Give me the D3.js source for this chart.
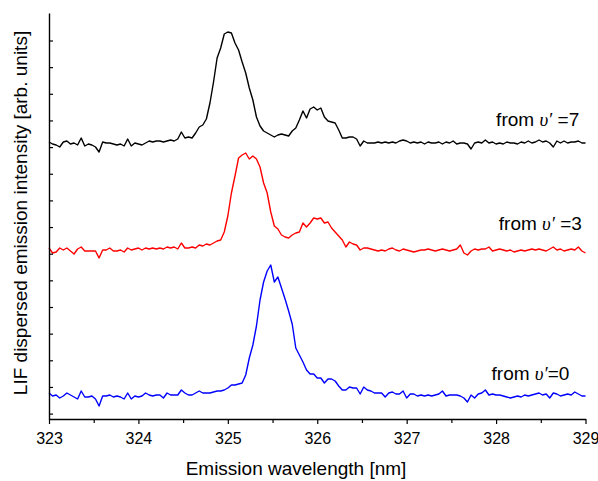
<!DOCTYPE html>
<html><head><meta charset="utf-8">
<script src="https://cdn.jsdelivr.net/npm/d3@7/dist/d3.min.js"></script>
<style>
body{margin:0;background:#fff;}
svg text{font-family:"Liberation Sans",Arial,Helvetica,sans-serif;fill:#000;}
</style>
</head><body>
<svg id="chart" width="598" height="481"></svg>
<script>
// ---------- data ----------
const wlStart = 323.0;          // nm, first sample
const wlStep = 0.04;            // nm between samples
const xTickValues = [323, 324, 325, 326, 327, 328, 329];
const xMinorTickValues = [323.5, 324.5, 325.5, 326.5, 327.5, 328.5];
const yTickStep = 26.65;        // arb. units between y ticks
const yTickFirst = 5.4;
const yMax = 406;

// vertical offsets of each spectrum (arb. units)
const offsetV7 = 275;
const offsetV3 = 169;
const offsetV0 = 23;

// intensities (arb. units, relative to each spectrum's baseline)
const intensityV7 = [
  2,0,-1,-3,2,3,0,1,-1,6,
  -2,0,-1,-3,-8,2,1,1,0,-1,
  0,-2,5,-2,1,0,-1,1,3,2,
  3,3,2,3,4,3,5,12,6,7,
  6,11,17,19,25,41,62,86,96,110,
  112,111,101,94,82,71,56,44,27,18,
  13,11,9,7,9,10,9,8,13,16,
  24,33,26,35,37,34,36,27,23,22,
  21,14,6,6,7,7,5,-2,3,1,
  1,1,2,1,2,1,2,1,3,4,
  3,1,2,1,2,0,2,1,1,2,
  0,2,1,3,0,1,1,0,-5,1,
  2,1,4,1,2,0,1,0,2,1,
  1,0,2,1,3,1,2,4,2,3,
  1,-3,3,1,3,1,2,2,3,1,1
];
const intensityV3 = [
  2,-3,-2,2,0,2,-1,-4,1,3,
  -1,-1,-1,-1,-8,0,0,2,-1,-1,
  0,-2,2,0,1,2,0,2,1,2,
  1,2,1,3,2,3,1,7,2,2,
  3,2,5,4,6,5,7,9,10,18,
  34,57,74,92,95,97,91,94,91,83,
  67,57,38,24,21,15,13,12,15,17,
  18,27,23,27,32,31,32,27,28,22,
  18,14,10,3,8,6,5,0,2,2,
  1,0,-1,0,-1,1,2,0,-1,1,
  0,-1,-2,-1,0,0,1,0,-1,0,
  1,0,-1,0,1,5,-3,-5,-1,1,
  0,1,1,3,-1,0,1,0,-1,0,
  -2,-1,0,-1,0,1,0,1,0,-1,
  1,3,0,1,-1,0,1,0,3,-1,-3
];
const intensityV0 = [
  3,0,1,-2,0,3,1,-1,-3,5,
  -1,-1,0,-3,-10,0,0,1,-1,0,
  -1,-3,3,-3,0,-1,0,3,1,0,
  1,1,-2,3,1,1,1,6,3,1,
  1,3,5,3,3,3,4,5,5,6,
  8,11,11,12,13,21,38,51,70,96,
  114,125,131,114,119,108,97,85,72,48,
  41,34,26,22,22,18,18,13,17,17,
  15,10,6,6,9,8,8,2,9,6,
  5,3,3,3,-1,3,4,2,2,5,
  -2,2,2,0,1,0,1,0,1,2,
  5,0,1,1,1,0,-2,-6,1,-2,
  2,3,6,1,2,1,1,0,-1,-2,
  -1,0,-1,1,0,1,2,3,1,2,
  -2,3,2,0,1,2,1,4,2,0,0
];
const seriesLevels = ["7", "3", "0"];
const seriesColors = ["#000000", "#ff0000", "#0000ff"];
const seriesOffsets = [offsetV7, offsetV3, offsetV0];
const seriesData = [intensityV7, intensityV3, intensityV0];
const labelGaps = [" =", " =", "="];   // spacing as in the figure

// ---------- layout ----------
const svg = d3.select("#chart");
const mLeft = 49, mRight = 585.5, mTop = 13, mBottom = 419;
const x = d3.scaleLinear().domain([323, 329]).range([mLeft, mRight]);
const y = d3.scaleLinear().domain([0, yMax]).range([mBottom, mTop]);

const line = d3.line()
  .x((d, i) => x(wlStart + i * wlStep))
  .y(d => y(d));

seriesData.forEach((vals, k) => {
  const shifted = vals.map(v => v + seriesOffsets[k]);
  svg.append("path")
    .datum(shifted)
    .attr("d", line)
    .attr("fill", "none")
    .attr("stroke", seriesColors[k])
    .attr("stroke-width", 1.4)
    .attr("stroke-linejoin", "round");
});

// x axis (major + minor ticks, outward)
const xAxis = svg.append("g").attr("transform", `translate(0,${mBottom})`)
  .call(d3.axisBottom(x).tickValues(xTickValues).tickFormat(d3.format("d")).tickSize(5).tickSizeOuter(0));
svg.append("g").attr("transform", `translate(0,${mBottom})`)
  .call(d3.axisBottom(x).tickValues(xMinorTickValues).tickFormat("").tickSize(4).tickSizeOuter(0))
  .select(".domain").remove();
xAxis.select(".domain").attr("stroke", "#000").attr("stroke-width", 1.4);
svg.selectAll("g.tick line").attr("stroke", "#000").attr("stroke-width", 1.2);
xAxis.selectAll("text").attr("font-size", 16).attr("dy", "1.05em")
  .style("font-family", '"Liberation Sans",Arial,sans-serif').attr("fill", "#000");

// y axis (no labels, inward ticks)
const yTickValues = d3.range(15).map(k => yTickFirst + k * yTickStep);
const yAxis = svg.append("g").attr("transform", `translate(${mLeft},0)`)
  .call(d3.axisLeft(y).tickValues(yTickValues).tickFormat("").tickSize(-4).tickSizeOuter(0));
yAxis.select(".domain").attr("stroke", "#000").attr("stroke-width", 1.4);
yAxis.selectAll(".tick line").attr("stroke", "#000").attr("stroke-width", 1.2);

// axis titles
svg.append("text")
  .attr("x", 296).attr("y", 475)
  .attr("text-anchor", "middle").attr("font-size", 19)
  .text("Emission wavelength [nm]");
svg.append("text")
  .attr("transform", "translate(27,213) rotate(-90)")
  .attr("text-anchor", "middle").attr("font-size", 19)
  .text("LIF dispersed emission intensity [arb. units]");

// series labels
const labelPos = [
  {wl: 328.93, dy: 18},
  {wl: 328.96, dy: 20},
  {wl: 328.82, dy: 16}
];
seriesLevels.forEach((lv, k) => {
  const t = svg.append("text")
    .attr("x", x(labelPos[k].wl))
    .attr("y", y(seriesOffsets[k] + labelPos[k].dy))
    .attr("text-anchor", "end")
    .attr("font-size", 19);
  t.append("tspan").text("from ");
  t.append("tspan").style("font-family", '"Liberation Serif","Times New Roman",serif')
    .style("font-style", "italic").text("\u03C5\u2032");
  t.append("tspan").text(labelGaps[k] + lv);
});
</script>
</body></html>
